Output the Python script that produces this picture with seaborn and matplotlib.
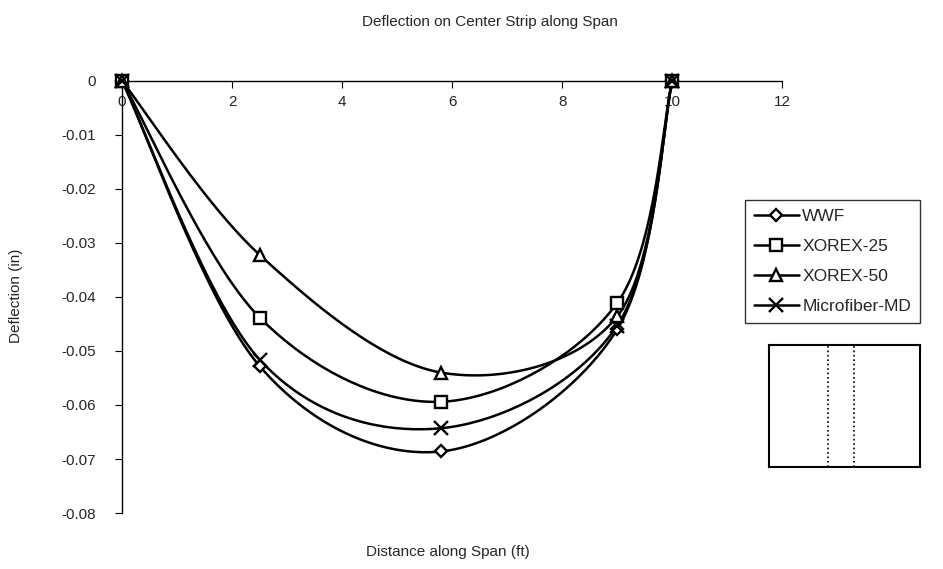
import numpy as np
import pandas as pd
import matplotlib
matplotlib.use("Agg")
import matplotlib.pyplot as plt
from matplotlib.lines import Line2D
import seaborn as sns

# ── data ────────────────────────────────────────────────────
distance = [0, 2.5, 5.8, 9.0, 10]
wwf      = [0, -0.0528, -0.0686, -0.0460, 0]
xorex25  = [0, -0.0438, -0.0594, -0.0411, 0]
xorex50  = [0, -0.0322, -0.0540, -0.0436, 0]
micro    = [0, -0.0516, -0.0643, -0.0453, 0]

series = {
    "WWF": (wwf, "D", 6.5),
    "XOREX-25": (xorex25, "s", 8.5),
    "XOREX-50": (xorex50, "^", 9),
    "Microfiber-MD": (micro, "x", 9.5),
}
x_ticks = [0, 2, 4, 6, 8, 10, 12]
y_ticks = [0, -0.01, -0.02, -0.03, -0.04, -0.05, -0.06, -0.07, -0.08]


def smooth(xs, ys, n=40):
    # Excel-style smoothed line: cubic Bezier through the points
    p = np.column_stack([xs, ys]).astype(float)
    out = []
    for i in range(len(p) - 1):
        p0 = p[i - 1] if i > 0 else p[i]
        p3 = p[i + 2] if i + 2 < len(p) else p[i + 1]
        c1 = p[i] + (p[i + 1] - p0) / 6
        c2 = p[i + 1] - (p3 - p[i]) / 6
        t = np.linspace(0, 1, n)[:, None]
        seg = ((1 - t) ** 3) * p[i] + 3 * ((1 - t) ** 2) * t * c1 \
            + 3 * (1 - t) * t ** 2 * c2 + t ** 3 * p[i + 1]
        out.append(seg if i == 0 else seg[1:])
    return np.vstack(out)


sns.set_style("white")
plt.rcParams["font.family"] = ["Liberation Sans", "DejaVu Sans"]

fig = plt.figure(figsize=(9.43, 5.69), dpi=100)
ax = fig.add_axes([0.1295, 0.0984, 0.70, 0.7593])

rows = []
for name, (vals, mk, ms) in series.items():
    curve = smooth(distance, vals)
    rows.append(pd.DataFrame({"x": curve[:, 0], "y": curve[:, 1], "s": name}))
df = pd.concat(rows, ignore_index=True)
sns.lineplot(data=df, x="x", y="y", units="s", estimator=None, sort=False,
             color="black", lw=1.8, ax=ax, legend=False)

for name, (vals, mk, ms) in series.items():
    ax.plot(distance, vals, ls="none", marker=mk, ms=ms, mfc="white",
            mec="black", mew=1.7, zorder=5, clip_on=False)

ax.set_xlim(0, 12)
ax.set_ylim(-0.08, 0)
ax.set_xticks(x_ticks)
ax.set_yticks(y_ticks)
ax.set_xticklabels([str(v) for v in x_ticks])
ax.set_yticklabels(["0" if v == 0 else f"{v:.2f}" for v in y_ticks])
for s in ["bottom", "right"]:
    ax.spines[s].set_visible(False)
for s in ["top", "left"]:
    ax.spines[s].set_color("black")
    ax.spines[s].set_linewidth(1.0)
ax.tick_params(axis="x", bottom=False, labelbottom=False, top=True, labeltop=True,
               direction="in", length=5, pad=-20, labelsize=11, color="black")
ax.tick_params(axis="y", left=True, direction="out", length=5, pad=14,
               labelsize=11, color="black")
ax.set_xlabel("")
ax.set_ylabel("")

fig.text(0.52, 0.962, "Deflection on Center Strip along Span", ha="center", va="center", fontsize=11)
fig.text(0.475, 0.03, "Distance along Span (ft)", ha="center", va="center", fontsize=11)
fig.text(0.017, 0.48, "Deflection (in)", ha="center", va="center", rotation=90, fontsize=11)

handles = [Line2D([], [], color="black", lw=1.8, marker=mk, ms=ms, mfc="white",
                  mec="black", mew=1.7) for (vals, mk, ms) in series.values()]
leg = fig.legend(handles, list(series.keys()), loc="upper left",
                 bbox_to_anchor=(0.79, 0.648), frameon=True, fancybox=False,
                 edgecolor="black", fontsize=12.5, handlelength=2.6,
                 labelspacing=0.85, borderpad=0.5, handletextpad=0.2,
                 borderaxespad=0)
leg.get_frame().set_linewidth(1.0)

# little sketch of the slab with the center strip
ins = fig.add_axes([0.8155, 0.1793, 0.160, 0.2144])
ins.set_xticks([])
ins.set_yticks([])
for s in ins.spines.values():
    s.set_color("black")
    s.set_linewidth(1.5)
for xv in [0.39, 0.563]:
    ins.axvline(xv, color="black", ls=":", lw=1.2)
ins.set_xlim(0, 1)
ins.set_ylim(0, 1)

fig.savefig("out.png", dpi=100)
